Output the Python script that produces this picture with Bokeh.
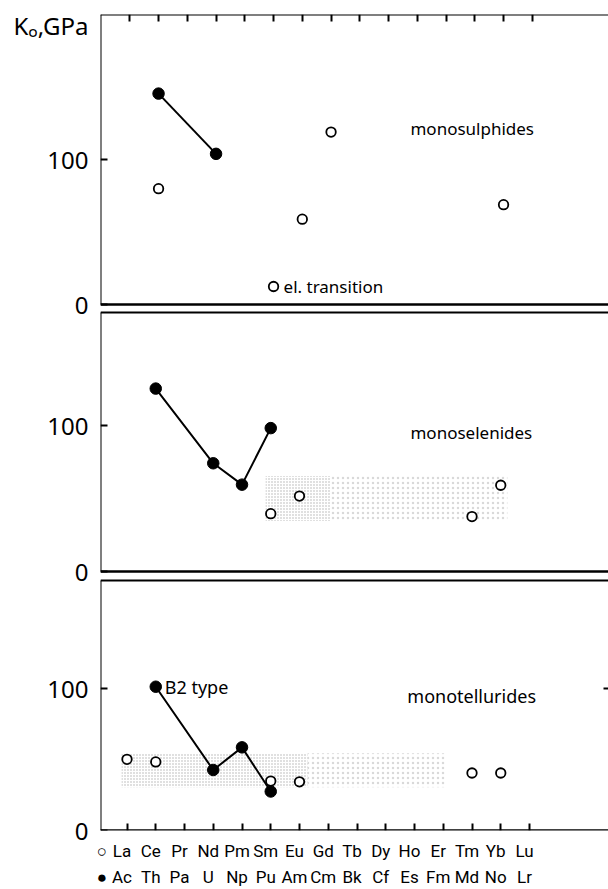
from bokeh.plotting import figure
from bokeh.models import Range1d, LinearAxis, FixedTicker, Label, ColumnDataSource
from bokeh.embed import file_html
from bokeh.resources import INLINE

# ---- data -------------------------------------------------------------
lanthanides = ["La", "Ce", "Pr", "Nd", "Pm", "Sm", "Eu", "Gd", "Tb", "Dy", "Ho", "Er", "Tm", "Yb", "Lu"]
actinides = ["Ac", "Th", "Pa", "U", "Np", "Pu", "Am", "Cm", "Bk", "Cf", "Es", "Fm", "Md", "No", "Lr"]

# bulk modulus K0 in GPa, open symbols = lanthanide compounds, filled = actinide compounds
sulphide_ln = ["Ce", "Sm", "Eu", "Gd", "Yb"]
sulphide_ln_k0 = [80, 12.6, 59, 119, 69]
sulphide_an = ["Th", "U"]
sulphide_an_k0 = [145.5, 104]

selenide_ln = ["Sm", "Eu", "Tm", "Yb"]
selenide_ln_k0 = [39.6, 51.6, 37.6, 59]
selenide_an = ["Th", "U", "Np", "Pu"]
selenide_an_k0 = [125, 74, 59.4, 98]

telluride_ln = ["La", "Ce", "Sm", "Eu", "Tm", "Yb"]
telluride_ln_k0 = [50, 48.2, 34.7, 34.2, 40.4, 40.4]
telluride_an = ["Th", "U", "Np", "Pu"]
telluride_an_k0 = [101, 42.5, 58.4, 27.4]

# shaded bands: element positions (start of dense part, end of dense part, end of sparse part) and K0 span
selenide_band_x = [4.82, 7.08, 13.23]
selenide_band_k0 = [34.6, 65.3]
telluride_band_x = [-0.19, 6.28, 11.1]
telluride_band_k0 = [30.4, 54.2]

y_ticks = [0, 100]
y_title = "Kₒ,GPa"
row_symbols = ["○", "●"]

# ---- layout geometry (pixels) -----------------------------------------
W, H = 608, 889
LEFT, TOP, BOTTOM = 100, 14, 57
frame_h = H - TOP - BOTTOM
frame_w = W - LEFT
frame_bottom_px = H - BOTTOM
step = 28.75


def x_range_for(first_px):
    start = -(first_px - LEFT) / step
    return Range1d(start, start + frame_w / step)


def y_range_for(zero_px, px_per_unit):
    return Range1d(-(frame_bottom_px - zero_px) / px_per_unit, (zero_px - TOP) / px_per_unit)


# panel: (range name, zero line px, px per GPa, top border px)
panels = [("p1", 305.0, 1.455, 14.0), ("p2", 572.5, 1.468, 313.0), ("default", 832.0, 1.427, 581.0)]

x_main = x_range_for(126.5)
x_labels = x_range_for(121.5)
p = figure(width=W, height=H, output_backend="svg", toolbar_location=None,
           x_range=x_main, y_range=y_range_for(832.0, 1.427),
           x_axis_location=None, y_axis_location=None,
           min_border_left=LEFT, min_border_right=0, min_border_top=TOP, min_border_bottom=BOTTOM)
p.outline_line_color = None
p.background_fill_color = "white"
p.border_fill_color = "white"
p.grid.visible = False
p.extra_x_ranges = {"top": x_range_for(129.3), "labels": x_labels}
p.extra_y_ranges = {"p1": y_range_for(305.0, 1.455), "p2": y_range_for(572.5, 1.468),
                    "frame": Range1d(0, frame_h)}

FONT = "Noto Sans"
x_start = x_main.start
x_end = x_main.end


def blank(ticks):
    return {t: "" for t in ticks}


# ---- frames: left rules with inward 0 / 100 ticks, top and bottom rules --
tick_pos, tick_text = [], {}
for name, zero_px, k, top_px in panels:
    top_val = (zero_px - top_px) / k
    ax = LinearAxis(y_range_name=name, fixed_location=x_start, bounds=(0, top_val),
                    ticker=FixedTicker(ticks=y_ticks), major_tick_in=7, major_tick_out=0,
                    minor_tick_line_color=None, axis_line_width=2, major_tick_line_width=2,
                    major_label_overrides=blank(y_ticks))
    p.add_layout(ax, "left")
    for v in y_ticks:
        pos = frame_bottom_px - zero_px + v * k
        tick_pos.append(pos)
        tick_text[pos] = str(v)

    xr = "top" if name == "p1" else "default"
    top_ticks = list(range(len(lanthanides))) if name == "p1" else []
    top_ax = LinearAxis(x_range_name=xr, y_range_name=name, fixed_location=top_val,
                        ticker=FixedTicker(ticks=top_ticks), major_tick_in=7, major_tick_out=0,
                        minor_tick_line_color=None, axis_line_width=2, major_tick_line_width=2,
                        major_label_overrides=blank(top_ticks))
    p.add_layout(top_ax, "above")

    bot_ticks = list(range(len(lanthanides))) if name == "default" else []
    bot_ax = LinearAxis(x_range_name="default", y_range_name=name, fixed_location=0,
                        ticker=FixedTicker(ticks=bot_ticks), major_tick_in=7, major_tick_out=0,
                        minor_tick_line_color=None, axis_line_width=2.5, major_tick_line_width=2,
                        major_label_overrides=blank(bot_ticks))
    p.add_layout(bot_ax, "below")

# y tick labels of all three panels plus the quantity name, on one label-only axis
title_pos = frame_h - 11
tick_pos.append(title_pos)
tick_text[title_pos] = y_title
label_axis = LinearAxis(y_range_name="frame", ticker=FixedTicker(ticks=tick_pos),
                        major_label_overrides=tick_text, axis_line_color=None,
                        major_tick_line_color=None, minor_tick_line_color=None,
                        major_label_text_font=FONT, major_label_text_font_size="24px",
                        major_label_text_color="black", major_label_standoff=6)
p.add_layout(label_axis, "left")

# stub of the right-hand 100 tick in the lowest panel
right_ax = LinearAxis(fixed_location=x_end, ticker=FixedTicker(ticks=[100]), major_tick_in=5,
                      major_tick_out=0, axis_line_color=None, minor_tick_line_color=None,
                      major_tick_line_width=2, major_label_overrides=blank([100]))
p.add_layout(right_ax, "right")

# element names under the lowest panel, two rows, each led by its symbol
symbol_x = x_labels.start + 1.5 / step
for names, symbol, standoff in ((lanthanides, row_symbols[0], 10), (actinides, row_symbols[1], 3)):
    ticks = list(range(len(names))) + [symbol_x]
    overrides = {i: n for i, n in enumerate(names)}
    overrides[symbol_x] = symbol
    lab_ax = LinearAxis(x_range_name="labels", ticker=FixedTicker(ticks=ticks),
                        major_label_overrides=overrides,
                        axis_line_color=None, major_tick_line_color=None, minor_tick_line_color=None,
                        major_tick_in=0, major_tick_out=0,
                        major_label_text_font="Roboto", major_label_text_font_size="17px",
                        major_label_text_color="black", major_label_standoff=standoff)
    p.add_layout(lab_ax, "below")

# ---- stippled bands -----------------------------------------------------
for bx, bk, yname in ((selenide_band_x, selenide_band_k0, "p2"), (telluride_band_x, telluride_band_k0, "default")):
    p.quad(left=[bx[0]], right=[bx[1]], bottom=[bk[0]], top=[bk[1]], y_range_name=yname,
           fill_color=None, line_color=None, hatch_pattern="dot", hatch_color="#8a8a8a",
           hatch_scale=3, hatch_weight=1, hatch_alpha=0.65)
    p.quad(left=[bx[1]], right=[bx[2]], bottom=[bk[0]], top=[bk[1]], y_range_name=yname,
           fill_color=None, line_color=None, hatch_pattern="dot", hatch_color="#a0a0a0",
           hatch_scale=5, hatch_weight=1, hatch_alpha=0.4)

# ---- data marks ---------------------------------------------------------
series = [
    (sulphide_ln, sulphide_ln_k0, sulphide_an, sulphide_an_k0, "top", "p1"),
    (selenide_ln, selenide_ln_k0, selenide_an, selenide_an_k0, "default", "p2"),
    (telluride_ln, telluride_ln_k0, telluride_an, telluride_an_k0, "default", "default"),
]
for ln, ln_k, an, an_k, xr, yr in series:
    ln_src = ColumnDataSource(dict(x=[lanthanides.index(e) for e in ln], k=ln_k))
    an_src = ColumnDataSource(dict(x=[actinides.index(e) for e in an], k=an_k))
    p.line("x", "k", source=an_src, x_range_name=xr, y_range_name=yr, line_color="black", line_width=2)
    p.scatter("x", "k", source=ln_src, x_range_name=xr, y_range_name=yr, marker="circle", size=9.5,
              fill_color="white", line_color="black", line_width=1.8)
    p.scatter("x", "k", source=an_src, x_range_name=xr, y_range_name=yr, marker="circle", size=11.5,
              fill_color="black", line_color="black")

# ---- annotations --------------------------------------------------------
sm = lanthanides.index("Sm")
th = actinides.index("Th")
small = dict(text_font=FONT, text_font_size="17px", text_color="black")
large = dict(text_font=FONT, text_font_size="18px", text_color="black")
p.add_layout(Label(x=sm, y=sulphide_ln_k0[sulphide_ln.index("Sm")], x_range_name="top", y_range_name="p1",
                   x_offset=10, text="el. transition", text_baseline="middle", **small))
p.add_layout(Label(x=th, y=telluride_an_k0[telluride_an.index("Th")], x_offset=9, text="B2 type",
                   text_baseline="middle", **large))
p.add_layout(Label(x=9.86, y=121.6, y_range_name="p1", text="monosulphides",
                   text_baseline="alphabetic", **small))
p.add_layout(Label(x=9.86, y=95.2, y_range_name="p2", text="monoselenides",
                   text_baseline="alphabetic", **small))
p.add_layout(Label(x=9.75, y=94.7, text="monotellurides",
                   text_baseline="alphabetic", **large))

open("out.html", "w").write(file_html(p, INLINE))
